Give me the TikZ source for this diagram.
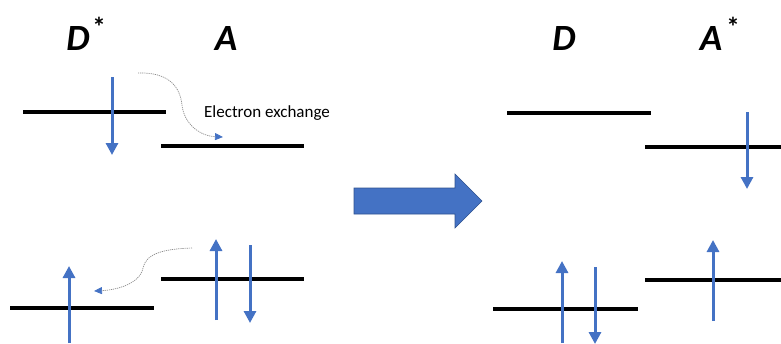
\documentclass[tikz,border=0pt]{standalone}
\usepackage{fontspec}
\setmainfont{Carlito}
\usetikzlibrary{arrows.meta}
\definecolor{spinblue}{HTML}{4472C4}
\definecolor{edgeblue}{HTML}{2F528F}
\definecolor{trailgray}{HTML}{8C8C8C}
\tikzset{
  level/.style={line width=4.2pt},
  spin/.style={spinblue, line width=3pt, -{Triangle[width=12pt,length=12pt]}},
  hop/.style={trailgray, line width=0.7pt, dash pattern=on 1.2pt off 0.9pt,
              -{Triangle[width=7pt,length=8pt,color=spinblue,fill=spinblue]}},
  species/.style={font=\fontsize{37}{40}\selectfont\bfseries\itshape, inner sep=0pt, anchor=center},
  excited/.style={font=\fontsize{27}{29}\selectfont\bfseries, inner sep=0pt, anchor=north},
  note/.style={font=\fontsize{17}{19}\selectfont, inner sep=0pt, anchor=west}
}
\begin{document}
\begin{tikzpicture}[x=1pt, y=-1pt]
  \useasboundingbox (0,0) rectangle (781,343);

  % species labels, with the excitation marks
  \node[species] (lD)  at (78,39)  {D};
  \node[excited] (lDx) at (99,17)  {*};
  \node[species] (lA)  at (226,39) {A};
  \node[species] (lD2) at (564,39) {D};
  \node[species] (lA2) at (711,39) {A};
  \node[excited] (lAx) at (733,17) {*};

  % ---- before: energy levels
  \coordinate (dUl) at (23,112);  \coordinate (dUr) at (166,112);
  \coordinate (aUl) at (161,146); \coordinate (aUr) at (304,146);
  \coordinate (dLl) at (10,308);  \coordinate (dLr) at (154,308);
  \coordinate (aLl) at (161,279); \coordinate (aLr) at (304,279);
  \draw[level] (dUl) -- (dUr);
  \draw[level] (aUl) -- (aUr);
  \draw[level] (dLl) -- (dLr);
  \draw[level] (aLl) -- (aLr);

  % ---- before: spins
  \coordinate (s1a) at (112,77);  \coordinate (s1b) at (112,155);
  \coordinate (s2a) at (69,343);  \coordinate (s2b) at (69,266);
  \coordinate (s3a) at (216,320); \coordinate (s3b) at (216,239);
  \coordinate (s4a) at (250,245); \coordinate (s4b) at (250,323);
  \draw[spin] (s1a) -- (s1b);
  \draw[spin] (s2a) -- (s2b);
  \draw[spin] (s3a) -- (s3b);
  \draw[spin] (s4a) -- (s4b);

  % ---- electron exchange paths
  \coordinate (h1a) at (138,73);  \coordinate (h1m) at (182,105); \coordinate (h1b) at (223,137);
  \draw[hop] (h1a) .. controls (168,72) and (180,86) .. (h1m)
                   .. controls (184,124) and (200,136) .. (h1b);
  \coordinate (h2a) at (192,248); \coordinate (h2m) at (143,268); \coordinate (h2b) at (94,291);
  \draw[hop] (h2a) .. controls (162,249) and (146,254) .. (h2m)
                   .. controls (140,284) and (116,290) .. (h2b);
  \node[note] (ex) at (204,113) {Electron exchange};

  % ---- reaction arrow
  \draw[edgeblue, line width=0.6pt, fill=spinblue]
    (354,188) -- (455,188) -- (455,174) -- (482,201) -- (455,228) -- (455,214) -- (354,214) -- cycle;

  % ---- after: energy levels
  \coordinate (DUl) at (507,113); \coordinate (DUr) at (651,113);
  \coordinate (AUl) at (645,147); \coordinate (AUr) at (781,147);
  \coordinate (DLl) at (493,309); \coordinate (DLr) at (638,309);
  \coordinate (ALl) at (645,280); \coordinate (ALr) at (781,280);
  \draw[level] (DUl) -- (DUr);
  \draw[level] (AUl) -- (AUr);
  \draw[level] (DLl) -- (DLr);
  \draw[level] (ALl) -- (ALr);

  % ---- after: spins
  \coordinate (t1a) at (747,112); \coordinate (t1b) at (747,189);
  \coordinate (t2a) at (562,343); \coordinate (t2b) at (562,261);
  \coordinate (t3a) at (595,267); \coordinate (t3b) at (595,344);
  \coordinate (t4a) at (713,321); \coordinate (t4b) at (713,240);
  \draw[spin] (t1a) -- (t1b);
  \draw[spin] (t2a) -- (t2b);
  \draw[spin] (t3a) -- (t3b);
  \draw[spin] (t4a) -- (t4b);
\end{tikzpicture}
\end{document}
